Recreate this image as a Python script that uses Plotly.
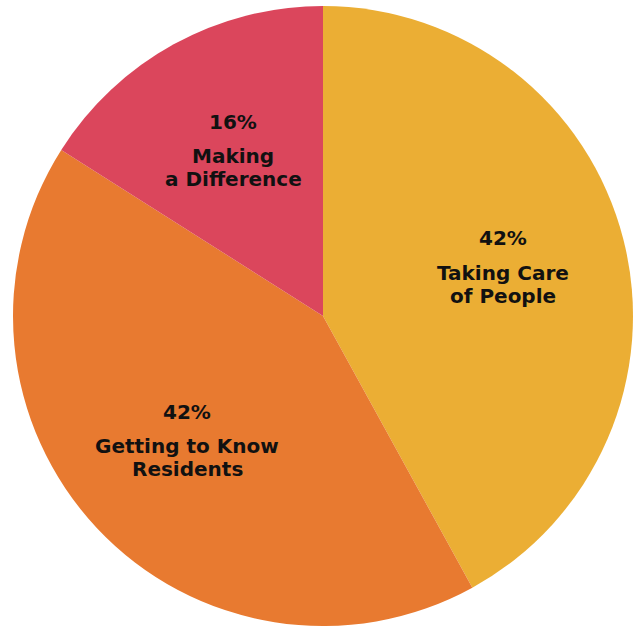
import math
import plotly.graph_objects as go

# Survey share by theme
labels = ["Taking Care<br>of People", "Getting to Know<br>Residents", "Making<br>a Difference"]
values = [42, 42, 16]
colors = ["#EBAE34", "#E87A30", "#DB465C"]

W, H = 635, 626
cx, cy, r = 323, 316, 310  # pie centre and radius in pixels

fig = go.Figure(
    go.Pie(
        labels=labels,
        values=values,
        sort=False,
        direction="clockwise",
        rotation=0,
        marker=dict(colors=colors, line=dict(width=0)),
        textinfo="none",
        hoverinfo="label+percent",
        domain=dict(x=[(cx - r) / W, (cx + r) / W], y=[1 - (cy + r) / H, 1 - (cy - r) / H]),
    )
)

# Labels placed at 60% of the radius along each slice's bisector:
# the percentage above, then the label lines with tight spacing
total = sum(values)
start = 0.0
font = dict(family="DejaVu Sans", size=20, color="#111111")
for lab, v in zip(labels, values):
    frac = v / total
    mid = (start + frac / 2) * 2 * math.pi
    start += frac
    px = cx + 0.6 * r * math.sin(mid)
    py = cy - 0.6 * r * math.cos(mid)
    xp, yp = px / W, 1 - py / H
    common = dict(x=xp, y=yp, xref="paper", yref="paper", showarrow=False,
                  xanchor="center", yanchor="middle", align="center", font=font)
    fig.add_annotation(text=f"<b>{round(frac * 100)}%</b>", yshift=31.5, **common)
    for i, line in enumerate(lab.split("<br>")):
        fig.add_annotation(text=f"<b>{line}</b>", yshift=-3 - 23 * i, **common)

fig.update_layout(
    width=W,
    height=H,
    margin=dict(l=0, r=0, t=0, b=0),
    showlegend=False,
    paper_bgcolor="white",
    plot_bgcolor="white",
)

fig.write_html("out.html")
